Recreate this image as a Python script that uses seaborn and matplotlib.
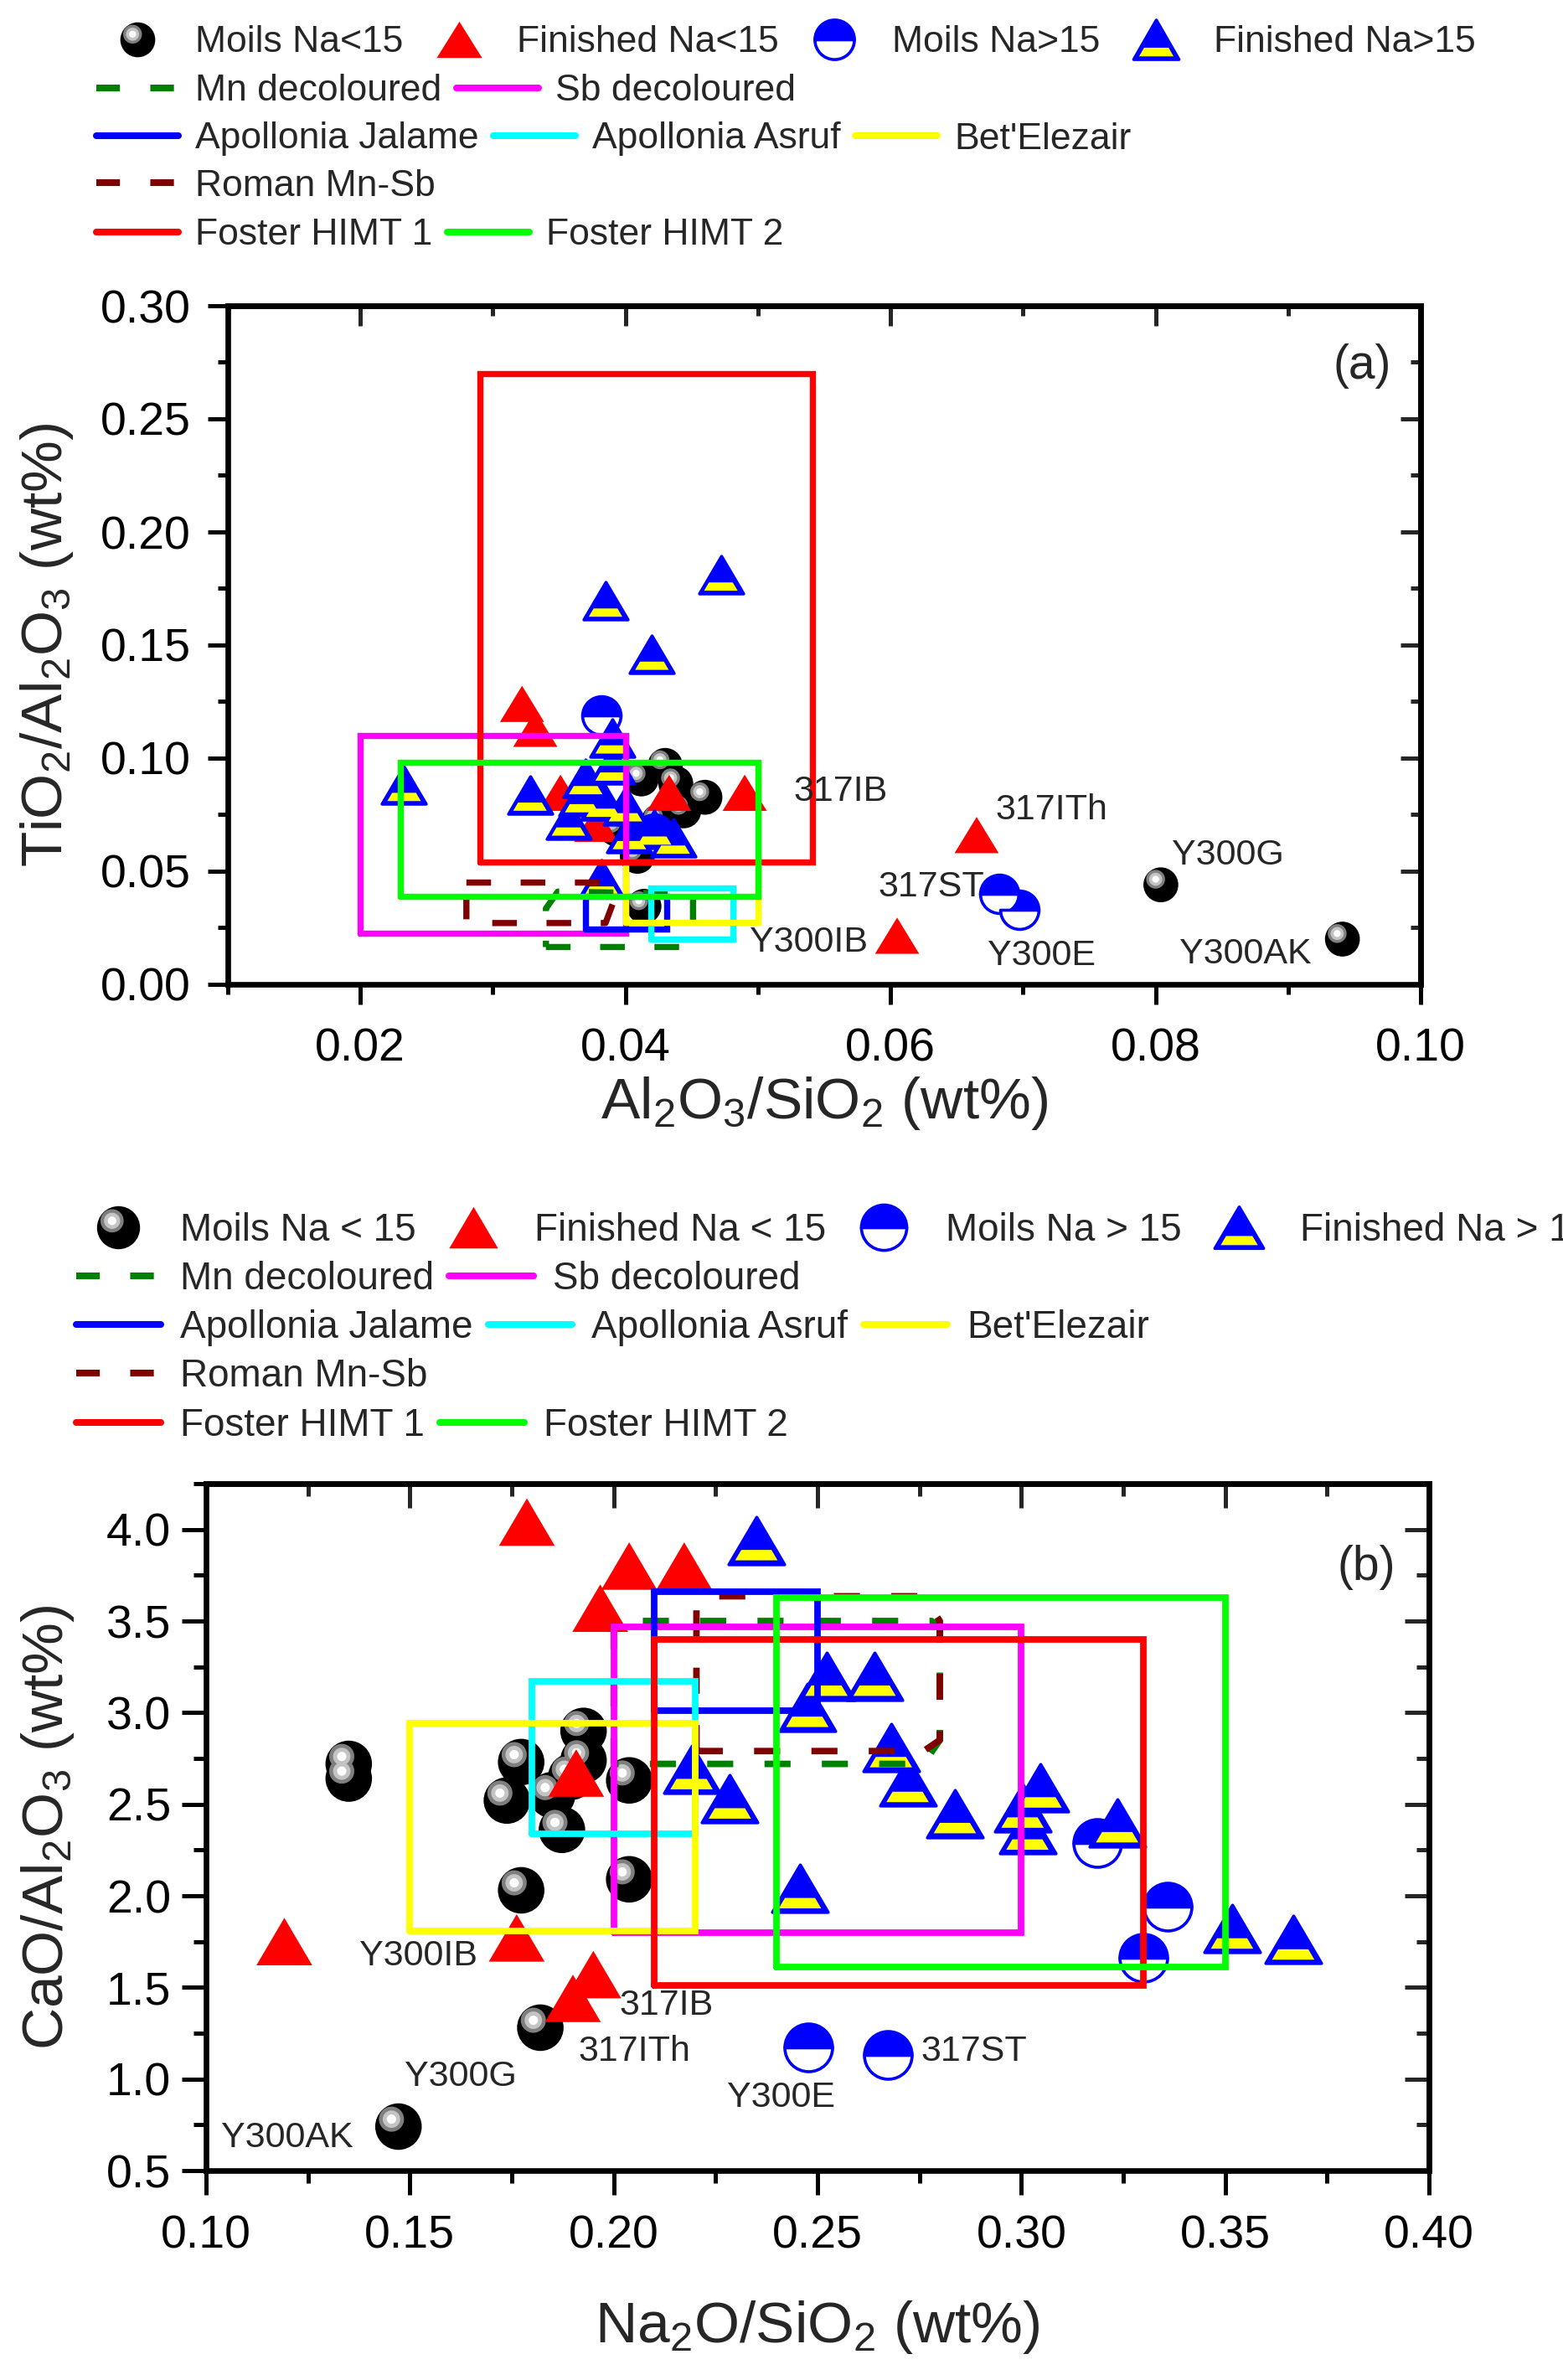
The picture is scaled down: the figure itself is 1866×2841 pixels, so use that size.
import numpy as np
import matplotlib
matplotlib.use("Agg")
import matplotlib.pyplot as plt
import seaborn as sns
from matplotlib.path import Path
from matplotlib.lines import Line2D
from matplotlib.ticker import MultipleLocator, FormatStrFormatter

# ---------------- panel (a): TiO2/Al2O3 vs Al2O3/SiO2 ----------------
moils_lo_a_x = [0.0430, 0.0438, 0.0460, 0.0412, 0.0444, 0.0393, 0.0409, 0.0414, 0.0425, 0.0804, 0.0941]
moils_lo_a_y = [0.0968, 0.0888, 0.0827, 0.0908, 0.0767, 0.0687, 0.0566, 0.0345, 0.0720, 0.0440, 0.0200]

fin_lo_a_x = [0.0322, 0.0332, 0.0351, 0.0378, 0.0433, 0.0490, 0.0605, 0.0665]
fin_lo_a_y = [0.1240, 0.1130, 0.0847, 0.0710, 0.0847, 0.0847, 0.0215, 0.0660]

moils_hi_a_x = [0.0382, 0.0422, 0.0682, 0.0697]
moils_hi_a_y = [0.1190, 0.0667, 0.0400, 0.0330]

fin_hi_a_x = [0.0385, 0.0472, 0.0420, 0.0233, 0.0328, 0.0357, 0.0370, 0.0390, 0.0390,
              0.0367, 0.0383, 0.0400, 0.0403, 0.0436, 0.0422, 0.0382]
fin_hi_a_y = [0.1695, 0.1810, 0.1460, 0.0880, 0.0837, 0.0727, 0.0910, 0.1090, 0.0970,
              0.0830, 0.0810, 0.0790, 0.0667, 0.0647, 0.0687, 0.0466]

labels_a = ["317IB", "317ITh", "317ST", "Y300G", "Y300IB", "Y300E", "Y300AK"]
labels_a_x = [0.0527, 0.0679, 0.0671, 0.0812, 0.0494, 0.0673, 0.0818]
labels_a_y = [0.0850, 0.0770, 0.0430, 0.0570, 0.0185, 0.0126, 0.0133]
labels_a_ha = ["left", "left", "right", "left", "left", "left", "left"]

# reference fields, panel (a): (x range, y range)
sb_a_x, sb_a_y = [0.020, 0.040], [0.0225, 0.110]
jalame_a_x, jalame_a_y = [0.037, 0.0431], [0.0245, 0.039]
asruf_a_x, asruf_a_y = [0.0419, 0.0481], [0.020, 0.0426]
bet_a_x, bet_a_y = [0.040, 0.050], [0.0275, 0.054]
himt1_a_x, himt1_a_y = [0.029, 0.0541], [0.0542, 0.270]
himt2_a_x, himt2_a_y = [0.023, 0.050], [0.039, 0.098]
mn_a_x = [0.0340, 0.0443, 0.0451, 0.0451, 0.0349, 0.0340, 0.0340]
mn_a_y = [0.0165, 0.0165, 0.0280, 0.0400, 0.0410, 0.0335, 0.0165]
roman_a_x = [0.0280, 0.0385, 0.0391, 0.0385, 0.0280, 0.0280]
roman_a_y = [0.0450, 0.0450, 0.0365, 0.0271, 0.0271, 0.0450]

# ---------------- panel (b): CaO/Al2O3 vs Na2O/SiO2 ----------------
moils_lo_b_x = [0.1350, 0.1350, 0.1773, 0.1738, 0.1926, 0.1926, 0.1896, 0.1849, 0.1873,
                0.2038, 0.1773, 0.2038, 0.1820, 0.1472]
moils_lo_b_y = [2.72, 2.64, 2.73, 2.52, 2.90, 2.74, 2.65, 2.55, 2.36,
                2.63, 2.03, 2.09, 1.28, 0.74]

fin_lo_b_x = [0.1787, 0.2038, 0.2173, 0.1967, 0.1908, 0.1192, 0.1762, 0.1950, 0.1900]
fin_lo_b_y = [4.04, 3.80, 3.80, 3.57, 2.67, 1.75, 1.77, 1.57, 1.44]

moils_hi_b_x = [0.3186, 0.3358, 0.3300, 0.2672, 0.2478]
moils_hi_b_y = [2.29, 1.94, 1.66, 1.13, 1.17]

fin_hi_b_x = [0.2350, 0.2522, 0.2640, 0.2475, 0.2680, 0.2721, 0.2837, 0.3003, 0.3047,
              0.3015, 0.3235, 0.2457, 0.3517, 0.3667, 0.2191, 0.2285]
fin_hi_b_y = [3.94, 3.20, 3.20, 3.03, 2.81, 2.62, 2.45, 2.48, 2.59,
              2.36, 2.40, 2.04, 1.82, 1.76, 2.69, 2.53]

labels_b = ["Y300IB", "317IB", "317ITh", "Y300G", "Y300AK", "Y300E", "317ST"]
labels_b_x = [0.1377, 0.2014, 0.1914, 0.1487, 0.1037, 0.2543, 0.2753]
labels_b_y = [1.67, 1.40, 1.15, 1.01, 0.68, 0.90, 1.15]
labels_b_ha = ["left", "left", "left", "left", "left", "right", "left"]

sb_b_x, sb_b_y = [0.20, 0.30], [1.80, 3.47]
jalame_b_x, jalame_b_y = [0.21, 0.25], [3.01, 3.66]
asruf_b_x, asruf_b_y = [0.18, 0.22], [2.34, 3.17]
bet_b_x, bet_b_y = [0.15, 0.22], [1.81, 2.94]
himt1_b_x, himt1_b_y = [0.21, 0.33], [1.51, 3.40]
himt2_b_x, himt2_b_y = [0.24, 0.35], [1.61, 3.63]
mn_b_x = [0.200, 0.200, 0.278, 0.280, 0.280, 0.276, 0.200]
mn_b_y = [2.72, 3.50, 3.50, 3.46, 2.85, 2.72, 2.72]
roman_b_x = [0.2203, 0.2203, 0.2225, 0.276, 0.280, 0.280, 0.276, 0.2203]
roman_b_y = [2.79, 3.58, 3.635, 3.635, 3.50, 2.85, 2.79, 2.79]

sample_labels_a = ["Moils Na<15", "Finished Na<15", "Moils Na>15", "Finished Na>15"]
sample_labels_b = ["Moils Na < 15", "Finished Na < 15", "Moils Na > 15", "Finished Na > 15"]

sns.set_style("ticks")
plt.rcParams["font.family"] = ["Liberation Sans", "DejaVu Sans"]
plt.rcParams["mathtext.fontset"] = "custom"
plt.rcParams["mathtext.rm"] = "Liberation Sans"
plt.rcParams["mathtext.it"] = "Liberation Sans:italic"
plt.rcParams["mathtext.bf"] = "Liberation Sans:bold"


def tri_path(r):
    return Path([(0, r), (-1, -r), (1, -r), (0, r)],
                [Path.MOVETO, Path.LINETO, Path.LINETO, Path.CLOSEPOLY])


def band_path(r, lo=0.08, hi=0.30, inset=0.16):
    # yellow stripe in the lower part of the triangle, anchored so scaling matches tri_path
    y0 = -r + lo * 2 * r
    y1 = -r + hi * 2 * r
    w0 = (r - y0) / (2 * r) - inset
    w1 = (r - y1) / (2 * r) - inset
    verts = [(1, 0), (-w0, y0), (w0, y0), (w1, y1), (-w1, y1), (-w0, y0)]
    codes = [Path.MOVETO, Path.MOVETO, Path.LINETO, Path.LINETO, Path.LINETO, Path.CLOSEPOLY]
    return Path(verts, codes)


def circle_path(cx, cy, rad, n=48):
    t = np.linspace(0, 2 * np.pi, n)
    verts = np.column_stack([cx + rad * np.cos(t), cy + rad * np.sin(t)])
    verts = np.vstack([[1.0, 0.0], verts])
    codes = [Path.MOVETO, Path.MOVETO] + [Path.LINETO] * (n - 1)
    return Path(verts, codes)


sphere_layers = [("o", "black"),
                 (circle_path(-0.30, 0.32, 0.54), "#7f7f7f"),
                 (circle_path(-0.30, 0.32, 0.375), "#c4c4c4"),
                 (circle_path(-0.30, 0.32, 0.20), "white")]

W, H = 1866, 2841
fig = plt.figure(figsize=(W / 100, H / 100), dpi=100)
ax_a = fig.add_axes([272 / W, 1 - 1175 / H, 1424 / W, 810 / H])
ax_b = fig.add_axes([246 / W, 1 - 2591 / H, 1460 / W, 820 / H])


def draw_points(ax, mlx, mly, flx, fly, mhx, mhy, fhx, fhy, ms_sph, ms_red, r_red, ms_circ, ms_blue, r_blue):
    for i, (m, c) in enumerate(sphere_layers):
        sns.scatterplot(x=mlx, y=mly, marker=m, s=ms_sph ** 2, color=c, edgecolor="none",
                        linewidth=0, ax=ax, zorder=2 + 0.1 * i, legend=False)
    sns.scatterplot(x=flx, y=fly, marker=tri_path(r_red), s=ms_red ** 2, color="red",
                    edgecolor="none", linewidth=0, ax=ax, zorder=3, legend=False)
    ax.plot(mhx, mhy, ls="none", marker="o", ms=ms_circ, mfc="blue", mfcalt="white",
            mec="blue", mew=2.6, fillstyle="top", zorder=4)
    sns.scatterplot(x=fhx, y=fhy, marker=tri_path(r_blue), s=ms_blue ** 2, color="blue",
                    edgecolor="blue", linewidth=2.6, ax=ax, zorder=5, legend=False)
    sns.scatterplot(x=fhx, y=fhy, marker=band_path(r_blue), s=ms_blue ** 2, color="yellow",
                    edgecolor="none", linewidth=0, ax=ax, zorder=5.1, legend=False)


def draw_fields(ax, rects, polys, lw):
    z = 6
    for xs, ys, c in polys:
        ax.plot(xs, ys, color=c, lw=lw, dashes=(4, 4.8), zorder=z)
        z += 0.1
    for xr, yr, c in rects:
        ax.plot([xr[0], xr[1], xr[1], xr[0], xr[0]], [yr[0], yr[0], yr[1], yr[1], yr[0]],
                color=c, lw=lw, solid_joinstyle="miter", zorder=z)
        z += 0.1


draw_points(ax_a, moils_lo_a_x, moils_lo_a_y, fin_lo_a_x, fin_lo_a_y, moils_hi_a_x, moils_hi_a_y,
            fin_hi_a_x, fin_hi_a_y, 30, 38, 0.82, 33, 38, 0.85)
draw_fields(ax_a,
            [(sb_a_x, sb_a_y, "#ff00ff"), (jalame_a_x, jalame_a_y, "#0000ff"),
             (asruf_a_x, asruf_a_y, "#00ffff"), (bet_a_x, bet_a_y, "#ffff00"),
             (himt1_a_x, himt1_a_y, "#ff0000"), (himt2_a_x, himt2_a_y, "#00ff00")],
            [(mn_a_x, mn_a_y, "#008000"), (roman_a_x, roman_a_y, "#800000")], 5.3)

draw_points(ax_b, moils_lo_b_x, moils_lo_b_y, fin_lo_b_x, fin_lo_b_y, moils_hi_b_x, moils_hi_b_y,
            fin_hi_b_x, fin_hi_b_y, 40, 48, 0.85, 41, 48, 0.85)
draw_fields(ax_b,
            [(sb_b_x, sb_b_y, "#ff00ff"), (jalame_b_x, jalame_b_y, "#0000ff"),
             (asruf_b_x, asruf_b_y, "#00ffff"), (bet_b_x, bet_b_y, "#ffff00"),
             (himt1_b_x, himt1_b_y, "#ff0000"), (himt2_b_x, himt2_b_y, "#00ff00")],
            [(mn_b_x, mn_b_y, "#008000"), (roman_b_x, roman_b_y, "#800000")], 5.6)

for t, x, y, ha in zip(labels_a, labels_a_x, labels_a_y, labels_a_ha):
    ax_a.text(x, y, t, ha=ha, va="center", fontsize=31, zorder=10)
for t, x, y, ha in zip(labels_b, labels_b_x, labels_b_y, labels_b_ha):
    ax_b.text(x, y, t, ha=ha, va="center", fontsize=31, zorder=10)


def style_axes(ax, xlim, ylim, xmaj, xmin, ymaj, ymin, xfmt, yfmt, L, l, xpad, ypad):
    ax.set_xlim(*xlim)
    ax.set_ylim(*ylim)
    ax.xaxis.set_major_locator(MultipleLocator(xmaj))
    ax.xaxis.set_minor_locator(MultipleLocator(xmin))
    ax.yaxis.set_major_locator(MultipleLocator(ymaj))
    ax.yaxis.set_minor_locator(MultipleLocator(ymin))
    ax.xaxis.set_major_formatter(FormatStrFormatter(xfmt))
    ax.yaxis.set_major_formatter(FormatStrFormatter(yfmt))
    ax.tick_params(which="both", direction="out", top=False, right=False, width=3.6,
                   labelsize=40, colors="black")
    ax.tick_params(which="major", length=L)
    ax.tick_params(which="minor", length=l)
    ax.tick_params(axis="x", pad=xpad)
    ax.tick_params(axis="y", pad=ypad)
    for sp in ax.spines.values():
        sp.set_visible(True)
        sp.set_linewidth(4.8)
        sp.set_color("black")
    top = ax.secondary_xaxis("top")
    top.xaxis.set_major_locator(MultipleLocator(xmaj))
    top.xaxis.set_minor_locator(MultipleLocator(xmin))
    top.tick_params(which="both", direction="in", labeltop=False, labelbottom=False, width=3.6)
    top.tick_params(which="major", length=L)
    top.tick_params(which="minor", length=l)
    right = ax.secondary_yaxis("right")
    right.yaxis.set_major_locator(MultipleLocator(ymaj))
    right.yaxis.set_minor_locator(MultipleLocator(ymin))
    right.tick_params(which="both", direction="in", labelright=False, labelleft=False, width=3.6)
    right.tick_params(which="major", length=L)
    right.tick_params(which="minor", length=l)
    for sec in (top, right):
        for sp in sec.spines.values():
            sp.set_linewidth(4.8)


style_axes(ax_a, (0.01, 0.10), (0.0, 0.30), 0.02, 0.01, 0.05, 0.025, "%.2f", "%.2f", 17, 8.5, 20, 15)
style_axes(ax_b, (0.10, 0.40), (0.5, 4.25), 0.05, 0.025, 0.5, 0.25, "%.2f", "%.1f", 21, 11, 17, 9)

ax_a.set_xlabel(r"Al$_2$O$_3$/SiO$_2$ (wt%)", fontsize=50)
ax_a.set_ylabel(r"TiO$_2$/Al$_2$O$_3$ (wt%)", fontsize=50)
ax_a.xaxis.set_label_coords(0.5, -0.133)
ax_a.yaxis.set_label_coords(-0.128, 0.5)
ax_b.set_xlabel(r"Na$_2$O/SiO$_2$ (wt%)", fontsize=50)
ax_b.set_ylabel(r"CaO/Al$_2$O$_3$ (wt%)", fontsize=50)
ax_b.xaxis.set_label_coords(0.5, -0.187)
ax_b.yaxis.set_label_coords(-0.106, 0.5)

ax_a.text(0.951, 0.911, "(a)", transform=ax_a.transAxes, ha="center", va="center", fontsize=41)
ax_b.text(0.949, 0.878, "(b)", transform=ax_b.transAxes, ha="center", va="center", fontsize=41)


def sample_handles(ms_sph, ms_red, r_red, ms_circ, ms_blue, r_blue):
    sphere = tuple(Line2D([], [], ls="none", marker=m, ms=ms_sph, mfc=c, mec="none")
                   for m, c in sphere_layers)
    red = Line2D([], [], ls="none", marker=tri_path(r_red), ms=ms_red, mfc="red", mec="none")
    circ = Line2D([], [], ls="none", marker="o", ms=ms_circ, mfc="blue", mfcalt="white",
                  mec="blue", mew=2.6, fillstyle="top")
    blue = (Line2D([], [], ls="none", marker=tri_path(r_blue), ms=ms_blue, mfc="blue", mec="blue", mew=2.6),
            Line2D([], [], ls="none", marker=band_path(r_blue), ms=ms_blue, mfc="yellow", mec="none"))
    return [sphere, red, circ, blue]


def field_handle(c, dashed=False):
    if dashed:
        return Line2D([], [], color=c, lw=5.8, dashes=(3.5, 4.5))
    return Line2D([], [], color=c, lw=5.8)


def legend_rows(rows, x0, ys, fs, hl, pad):
    for (hs, ls), y in zip(rows, ys):
        fig.legend(hs, ls, loc="center left", bbox_to_anchor=(x0 / W, 1 - y / H), ncol=len(hs),
                   frameon=False, fontsize=fs, handlelength=hl, handletextpad=pad,
                   columnspacing=0.4, borderpad=0, borderaxespad=0)


def field_rows():
    return [([field_handle("#008000", True), field_handle("#ff00ff")], ["Mn decoloured", "Sb decoloured"]),
            ([field_handle("#0000ff"), field_handle("#00ffff"), field_handle("#ffff00")],
             ["Apollonia Jalame", "Apollonia Asruf", "Bet'Elezair"]),
            ([field_handle("#800000", True)], ["Roman Mn-Sb"]),
            ([field_handle("#ff0000"), field_handle("#00ff00")], ["Foster HIMT 1", "Foster HIMT 2"])]


legend_rows([(sample_handles(30, 39, 0.8, 34, 39, 0.87), sample_labels_a)] + field_rows(),
            115, [51, 109, 166, 222, 281], 32, 2.2, 0.45)
legend_rows([(sample_handles(37, 42, 0.85, 39, 42, 0.85), sample_labels_b)] + field_rows(),
            91, [1469, 1527, 1585, 1643, 1702], 33, 2.2, 0.5)

fig.savefig("out.png", dpi=100, facecolor="white")
